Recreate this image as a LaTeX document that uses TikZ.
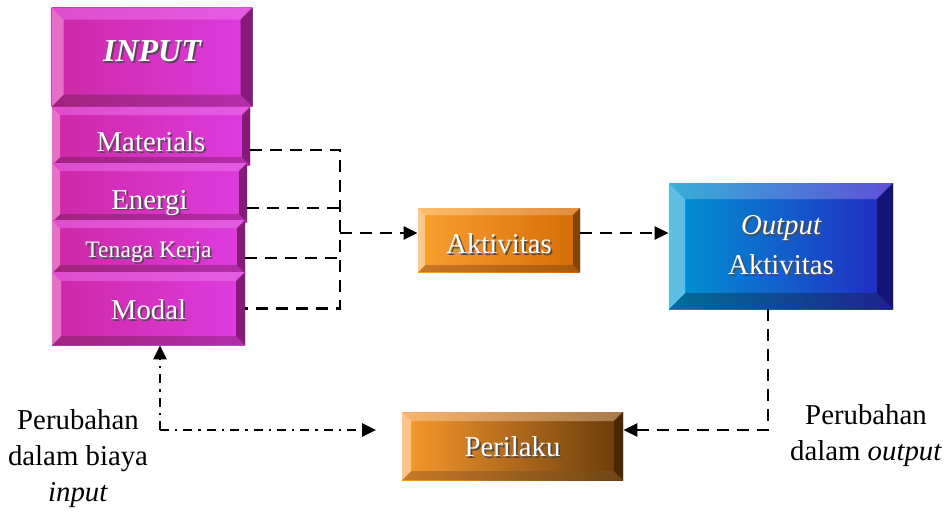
\documentclass[tikz,border=0pt]{standalone}
\usepackage{fontspec}
\setmainfont{Liberation Serif}
\usetikzlibrary{arrows.meta,positioning,calc}
% magenta boxes
\definecolor{pkL}{RGB}{205,40,165}
\definecolor{pkR}{RGB}{222,60,225}
\definecolor{pkTL}{RGB}{222,78,205}
\definecolor{pkTR}{RGB}{228,92,228}
\definecolor{pkLe}{RGB}{230,112,200}
\definecolor{pkRi}{RGB}{135,25,120}
\definecolor{pkBL}{RGB}{160,35,125}
\definecolor{pkBR}{RGB}{180,45,170}
% orange
\definecolor{orL}{RGB}{250,160,50}
\definecolor{orR}{RGB}{213,108,5}
\definecolor{orTL}{RGB}{252,190,110}
\definecolor{orTR}{RGB}{225,140,60}
\definecolor{orLe}{RGB}{255,200,140}
\definecolor{orRi}{RGB}{135,68,0}
\definecolor{orBL}{RGB}{200,120,40}
\definecolor{orBR}{RGB}{170,88,10}
% brown
\definecolor{brL}{RGB}{250,155,45}
\definecolor{brR}{RGB}{105,58,12}
\definecolor{brTL}{RGB}{250,180,110}
\definecolor{brTR}{RGB}{165,122,72}
\definecolor{brLe}{RGB}{255,195,140}
\definecolor{brRi}{RGB}{70,40,5}
\definecolor{brBL}{RGB}{200,120,40}
\definecolor{brBR}{RGB}{110,70,20}
% blue
\definecolor{blL}{RGB}{0,150,210}
\definecolor{blR}{RGB}{35,40,195}
\definecolor{blTL}{RGB}{55,175,215}
\definecolor{blTR}{RGB}{95,80,215}
\definecolor{blLe}{RGB}{95,190,225}
\definecolor{blRi}{RGB}{18,20,120}
\definecolor{blBL}{RGB}{0,110,150}
\definecolor{blBR}{RGB}{30,35,140}
% white text with drop shadow, optionally lowered
\newcommand{\shtxt}[2][0pt]{\raisebox{-#1}[\height][\depth]{\makebox[0pt][l]{\kern0.9pt\raisebox{-0.9pt}{\color{black!70}#2}}{\color{white}#2}}}
\tikzset{
  bevel/.style 2 args={rectangle, left color=#1L, right color=#1R, draw=none, inner sep=0pt,
    font=\fontsize{14.4}{16}\selectfont,
    path picture={
      \coordinate (pnw) at (path picture bounding box.north west);
      \coordinate (pne) at (path picture bounding box.north east);
      \coordinate (psw) at (path picture bounding box.south west);
      \coordinate (pse) at (path picture bounding box.south east);
      \shade[left color=#1TL, right color=#1TR] (pnw) -- (pne) -- ([shift={(-#2,-#2)}]pne) -- ([shift={(#2,-#2)}]pnw) -- cycle;
      \shade[left color=#1BL, right color=#1BR] (psw) -- (pse) -- ([shift={(-#2,#2)}]pse) -- ([shift={(#2,#2)}]psw) -- cycle;
      \fill[#1Le] (pnw) -- (psw) -- ([shift={(#2,#2)}]psw) -- ([shift={(#2,-#2)}]pnw) -- cycle;
      \fill[#1Ri] (pne) -- (pse) -- ([shift={(-#2,#2)}]pse) -- ([shift={(-#2,-#2)}]pne) -- cycle;
    }},
  arr/.style={-{Triangle[length=7pt,width=6.5pt]}, line width=1.4pt, black},
  dsh/.style={line width=1.4pt, dash pattern=on 6pt off 4pt},
  dshdot/.style={line width=1.4pt, dash pattern=on 4.5pt off 3pt on 1.2pt off 3pt},
  lbl/.style={align=center, font=\fontsize{14.4}{18}\selectfont},
}
\begin{document}
\begin{tikzpicture}[x=0.5pt,y=-0.5pt]
  \useasboundingbox (0,0) rectangle (951,511);
  % input stack
  \node[bevel={pk}{6pt}, minimum width=100.5pt, minimum height=49.5pt, font=\fontsize{16}{18}\selectfont\bfseries\itshape] (inp) at (152,57) {\shtxt[-2.5pt]{INPUT}};
  \node[bevel={pk}{4pt}, minimum width=99pt, minimum height=29pt] (mat) at (151,136) {\shtxt[3.5pt]{Materials}};
  \node[bevel={pk}{4pt}, minimum width=97.5pt, minimum height=29.5pt] (eng) at (149.5,192.5) {\shtxt[5.5pt]{Energi}};
  \node[bevel={pk}{4pt}, minimum width=96.5pt, minimum height=26.5pt, font=\fontsize{11.8}{13}\selectfont] (tk) at (148.5,246.5) {\shtxt[3.5pt]{Tenaga Kerja}};
  \node[bevel={pk}{4.5pt}, minimum width=96.5pt, minimum height=36.5pt] (mod) at (148.5,308.5) {\shtxt[1pt]{Modal}};
  % process boxes
  \node[bevel={or}{3.5pt}, minimum width=81pt, minimum height=32pt] (akt) at (499,240) {\shtxt[2.5pt]{Aktivitas}};
  \node[bevel={bl}{8pt}, minimum width=112pt, minimum height=63pt, align=center] (out) at (781,246) {\shtxt{\itshape Output}\\[4pt]\shtxt{Aktivitas}};
  \node[bevel={br}{4.5pt}, minimum width=110.5pt, minimum height=34pt] (per) at (512.5,446) {\shtxt[1pt]{Perilaku}};
  % labels
  \node[lbl] (lin) at (78,459) {Perubahan\\dalam biaya\\\textit{input}};
  \node[lbl] (lout) at (866,436) {Perubahan\\dalam \textit{output}};
  % connectors
  \coordinate (bus) at (340,233);
  \coordinate (obend) at (768,430);
  \coordinate (ibend) at (160,430);
  \coordinate (iend) at (376,430);
  \draw[dsh] ([yshift=-7pt]mat.east) -| (bus) |- (mod.east);
  \draw[dsh] ([yshift=-7.75pt]eng.east) -- ([yshift=-7.75pt]eng.east -| bus);
  \draw[dsh] ([yshift=-5.75pt]tk.east) -- ([yshift=-5.75pt]tk.east -| bus);
  \draw[dsh,arr] (bus) -- (akt.west |- bus);
  \draw[dsh,arr] (akt.east |- bus) -- (out.west |- bus);
  \draw[dsh,arr] (out.south -| obend) -- (obend) -- (per.east |- obend);
  \draw[dshdot,arr] (ibend) -- (mod.south -| ibend);
  \draw[dshdot,arr] (ibend) -- (iend);
\end{tikzpicture}
\end{document}
